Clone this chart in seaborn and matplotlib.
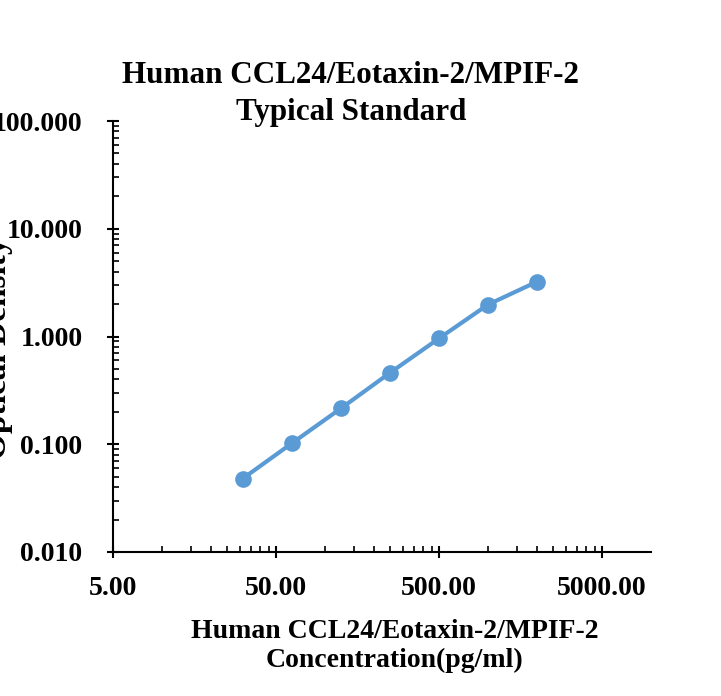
import matplotlib
matplotlib.use("Agg")
import matplotlib.pyplot as plt
from matplotlib import ticker
import numpy as np
import pandas as pd
import seaborn as sns

concentration = [31.25, 62.5, 125, 250, 500, 1000, 2000]
optical_density = [0.048, 0.102, 0.215, 0.46, 0.96, 1.98, 3.23]
x_major = [5, 50, 500, 5000]
y_major = [0.01, 0.1, 1, 10, 100]

sns.set_theme(style="white")
plt.rcParams["font.family"] = ["Liberation Serif", "DejaVu Serif"]
plt.rcParams["font.weight"] = "bold"
plt.rcParams["text.color"] = "black"

df = pd.DataFrame({"conc": concentration, "od": optical_density})

fig = plt.figure(figsize=(7.21, 6.96), dpi=100)
ax = fig.add_axes([0.1567, 0.2069, 0.903 - 0.1567, 0.8261 - 0.2069])
sns.lineplot(data=df, x="conc", y="od", ax=ax, color="#5B9BD5", lw=3,
             marker="o", markersize=12, markeredgewidth=0, markeredgecolor="#5B9BD5")

ax.set_xscale("log")
ax.set_yscale("log")
ax.set_xlim(5, 10000)
ax.set_ylim(0.01, 100)

ax.xaxis.set_major_locator(ticker.FixedLocator(x_major))
ax.xaxis.set_major_formatter(ticker.FuncFormatter(lambda v, p: f"{v:.2f}"))
x_minor = [m * 10.0 ** e for e in range(0, 4) for m in np.arange(1, 5, 0.5)]
ax.xaxis.set_minor_locator(ticker.FixedLocator([v for v in x_minor if 5 < v < 10000]))
ax.xaxis.set_minor_formatter(ticker.NullFormatter())

ax.yaxis.set_major_locator(ticker.FixedLocator(y_major))
ax.yaxis.set_major_formatter(ticker.FuncFormatter(lambda v, p: f"{v:.3f}"))
ax.yaxis.set_minor_locator(ticker.LogLocator(base=10, subs=np.arange(2, 10)))
ax.yaxis.set_minor_formatter(ticker.NullFormatter())

for side in ["top", "right"]:
    ax.spines[side].set_visible(False)
for side in ["left", "bottom"]:
    ax.spines[side].set_color("black")
    ax.spines[side].set_linewidth(1.5)

ax.tick_params(which="major", direction="inout", length=8, width=1.5, colors="black",
               labelsize=20, labelcolor="black")
ax.tick_params(axis="x", which="major", pad=13)
ax.tick_params(axis="y", which="major", pad=18)
ax.tick_params(which="minor", direction="in", length=4, width=1.2, colors="black")
ax.tick_params(bottom=True, left=True, which="both")

ax.set_xlabel("Human CCL24/Eotaxin-2/MPIF-2\nConcentration(pg/ml)", fontsize=20,
              fontweight="bold", linespacing=1.2, color="black")
ax.xaxis.set_label_coords(0.523, -0.267)
ax.xaxis.label.set_va("baseline")
ax.set_ylabel("Optical Density", fontsize=24, fontweight="bold", color="black")
ax.yaxis.set_label_coords(-0.186, 0.473)

fig.text(351 / 721, 1 - 120 / 696, "Human CCL24/Eotaxin-2/MPIF-2\nTypical Standard",
         fontsize=22.4, fontweight="bold", ha="center", va="baseline",
         multialignment="center", linespacing=1.35, color="black")

plt.savefig("out.png", dpi=100)
